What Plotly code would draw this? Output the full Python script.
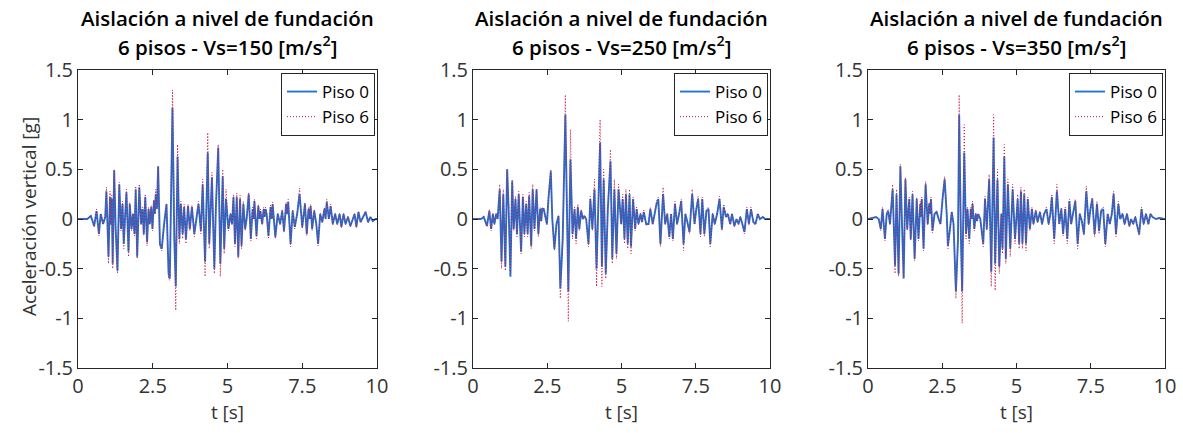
import plotly.graph_objects as go

# ---------------- data ----------------
T1 = [0.00, 0.31, 0.43, 0.54, 0.62, 0.70, 0.76, 0.84, 0.91, 0.95,
      1.02, 1.07, 1.10, 1.13, 1.16, 1.21, 1.26, 1.32, 1.38, 1.44,
      1.49, 1.53, 1.58, 1.62, 1.69, 1.73, 1.79, 1.84, 1.89, 1.93,
      1.98, 2.05, 2.11, 2.16, 2.20, 2.25, 2.31, 2.36, 2.40, 2.45,
      2.49, 2.54, 2.57, 2.60, 2.64, 2.68, 2.74, 2.80, 2.88, 2.96,
      3.03, 3.07, 3.16, 3.22, 3.27, 3.33, 3.39, 3.44, 3.50, 3.55,
      3.61, 3.68, 3.74, 3.81, 3.89, 3.97, 4.03, 4.11, 4.17, 4.25,
      4.34, 4.39, 4.48, 4.56, 4.61, 4.69, 4.76, 4.84, 4.89, 4.95,
      5.03, 5.10, 5.15, 5.20, 5.25, 5.31, 5.36, 5.42, 5.47, 5.53,
      5.59, 5.64, 5.71, 5.78, 5.84, 5.87, 5.90, 5.97, 6.03, 6.07,
      6.10, 6.16, 6.21, 6.24, 6.27, 6.31, 6.37, 6.44, 6.48, 6.51,
      6.60, 6.68, 6.76, 6.83, 6.89, 6.96, 7.00, 7.03, 7.11, 7.18,
      7.25, 7.33, 7.41, 7.50, 7.59, 7.65, 7.71, 7.75, 7.78, 7.83,
      7.90, 7.97, 8.03, 8.10, 8.17, 8.24, 8.28, 8.32, 8.39, 8.45,
      8.52, 8.60, 8.67, 8.75, 8.81, 8.88, 8.95, 9.03, 9.11, 9.17,
      9.25, 9.31, 9.38, 9.45, 9.53, 9.62, 9.70, 9.78, 9.86, 9.95,
      10.00]
P0_1 = [0, 0, 0.03, -0.07, 0.08, -0.15, 0.05, -0.05, 0.02, 0.28,
        -0.38, 0.22, -0.05, 0.20, -0.45, 0.49, -0.10, -0.52, 0.35, -0.10,
        0.15, -0.25, 0.05, 0.27, -0.33, 0.15, -0.10, 0.05, -0.15, 0.30,
        -0.38, 0.32, -0.05, 0.10, -0.15, 0.22, -0.23, 0.10, -0.05, 0.12,
        -0.10, 0.18, 0.05, 0.25, 0.10, 0.53, -0.25, -0.30, -0.05, 0.15,
        -0.55, -0.60, 1.12, -0.20, -0.68, 0.63, -0.20, 0.15, -0.15, 0.12,
        -0.20, 0.13, -0.10, 0.12, -0.15, 0.05, 0.15, -0.12, 0.35, -0.43,
        0.67, -0.25, 0.42, -0.50, 0.10, 0.72, -0.45, 0.43, -0.30, 0.20,
        -0.10, 0.05, -0.05, 0.22, -0.25, 0.22, -0.38, 0.20, -0.27, 0.15,
        -0.10, 0.00, 0.25, -0.20, 0.10, 0.00, 0.18, -0.17, 0.13, 0.00,
        0.08, -0.05, 0.10, 0.02, 0.10, 0.05, -0.17, 0.12, 0.00, 0.15,
        -0.18, 0.05, -0.05, 0.08, -0.12, 0.15, 0.05, 0.17, -0.25, 0.08,
        -0.08, 0.05, 0.25, -0.08, 0.15, -0.15, 0.10, 0.00, 0.13, -0.10,
        0.08, -0.05, -0.25, 0.05, -0.03, 0.10, 0.00, 0.17, 0.00, 0.13,
        -0.05, 0.05, -0.05, 0.05, -0.08, 0.05, -0.05, 0.02, -0.07, -0.02,
        0.05, -0.08, 0.07, -0.03, 0.02, 0.07, -0.03, 0.02, -0.02, 0.00,
        0.00]
P6_1 = [0, 0, 0.04, -0.08, 0.10, -0.17, 0.06, -0.06, 0.03, 0.32,
        -0.45, 0.28, -0.06, 0.24, -0.50, 0.50, -0.12, -0.55, 0.37, -0.12,
        0.18, -0.30, 0.06, 0.30, -0.38, 0.17, -0.12, 0.06, -0.17, 0.33,
        -0.40, 0.35, -0.06, 0.12, -0.17, 0.25, -0.27, 0.12, -0.06, 0.14,
        -0.12, 0.20, 0.06, 0.30, 0.12, 0.53, -0.28, -0.32, -0.06, 0.15,
        -0.60, -0.62, 1.30, -0.25, -0.92, 0.75, -0.25, 0.18, -0.20, 0.15,
        -0.25, 0.15, -0.12, 0.14, -0.18, 0.06, 0.18, -0.15, 0.40, -0.58,
        0.87, -0.30, 0.47, -0.55, 0.12, 0.75, -0.58, 0.50, -0.35, 0.30,
        -0.12, 0.06, -0.06, 0.25, -0.28, 0.26, -0.40, 0.24, -0.30, 0.18,
        -0.12, 0.00, 0.27, -0.22, 0.12, 0.00, 0.20, -0.20, 0.15, 0.00,
        0.10, -0.06, 0.12, 0.02, 0.12, 0.06, -0.20, 0.14, 0.00, 0.17,
        -0.20, 0.06, -0.06, 0.10, -0.14, 0.17, 0.06, 0.20, -0.28, 0.10,
        -0.10, 0.06, 0.31, -0.10, 0.17, -0.17, 0.12, 0.00, 0.15, -0.12,
        0.10, -0.06, -0.27, 0.06, -0.04, 0.12, 0.00, 0.20, 0.00, 0.15,
        -0.06, 0.06, -0.06, 0.06, -0.09, 0.06, -0.06, 0.03, -0.08, -0.02,
        0.06, -0.09, 0.08, -0.04, 0.02, 0.08, -0.04, 0.02, -0.02, 0.00,
        0.00]

T2 = [0.00, 0.27, 0.36, 0.47, 0.55, 0.61, 0.67, 0.72, 0.78, 0.83,
      0.90, 0.96, 1.02, 1.09, 1.15, 1.20, 1.26, 1.32, 1.37, 1.43,
      1.48, 1.54, 1.62, 1.68, 1.73, 1.79, 1.84, 1.89, 1.96, 2.01,
      2.07, 2.14, 2.20, 2.26, 2.30, 2.33, 2.38, 2.44, 2.49, 2.54,
      2.62, 2.67, 2.74, 2.81, 2.88, 2.94, 3.02, 3.11, 3.17, 3.21,
      3.28, 3.35, 3.42, 3.47, 3.53, 3.58, 3.64, 3.70, 3.75, 3.81,
      3.89, 3.95, 4.02, 4.09, 4.16, 4.22, 4.28, 4.34, 4.40, 4.47,
      4.54, 4.63, 4.69, 4.76, 4.83, 4.90, 4.99, 5.04, 5.10, 5.15,
      5.21, 5.27, 5.32, 5.39, 5.46, 5.51, 5.57, 5.64, 5.69, 5.75,
      5.83, 5.91, 5.97, 6.05, 6.11, 6.18, 6.24, 6.31, 6.40, 6.47,
      6.54, 6.61, 6.67, 6.73, 6.80, 6.87, 6.94, 7.01, 7.09, 7.15,
      7.21, 7.29, 7.38, 7.46, 7.52, 7.58, 7.66, 7.72, 7.79, 7.86,
      7.93, 7.99, 8.07, 8.14, 8.22, 8.30, 8.38, 8.44, 8.52, 8.58,
      8.66, 8.72, 8.80, 8.87, 8.94, 9.00, 9.07, 9.14, 9.22, 9.29,
      9.36, 9.44, 9.51, 9.59, 9.66, 9.76, 9.83, 9.92, 10.00]
P0_2 = [0, 0, 0.02, -0.07, 0.08, -0.10, 0.05, -0.05, 0.05, 0.00,
        0.30, -0.43, 0.25, -0.48, 0.50, 0.10, -0.58, 0.38, -0.10, 0.20,
        -0.15, 0.25, -0.33, 0.22, -0.15, 0.15, -0.15, 0.23, -0.27, 0.30,
        -0.10, 0.30, -0.15, 0.10, -0.02, 0.10, 0.10, 0.02, -0.05, 0.20,
        0.48, 0.00, -0.30, -0.05, 0.03, -0.70, -0.20, 1.05, -0.20, -0.73,
        0.60, -0.15, 0.10, -0.20, 0.12, -0.10, 0.08, 0.00, 0.03, 0.00,
        -0.25, 0.20, -0.10, 0.30, -0.50, 0.20, 0.77, -0.48, 0.40, -0.55,
        0.10, 0.58, -0.40, 0.30, -0.35, 0.30, -0.05, 0.20, -0.20, 0.25,
        -0.25, 0.25, -0.28, 0.20, -0.10, 0.10, -0.05, 0.05, -0.03, 0.07,
        -0.05, -0.05, 0.10, -0.05, 0.05, 0.15, 0.20, -0.25, 0.25, -0.05,
        0.05, -0.18, 0.05, -0.20, 0.15, -0.05, 0.05, 0.18, -0.25, 0.05,
        -0.02, -0.13, 0.25, -0.05, 0.10, 0.20, -0.15, 0.20, -0.15, 0.08,
        0.10, -0.25, 0.05, -0.05, 0.05, 0.20, -0.10, 0.12, 0.02, 0.05,
        -0.05, 0.05, -0.07, 0.00, -0.05, 0.02, -0.05, -0.13, 0.10, -0.05,
        0.10, -0.03, -0.05, 0.05, 0.00, 0.02, 0.00, 0.00, 0.00]
P6_2 = [0, 0, 0.03, -0.08, 0.10, -0.12, 0.06, -0.06, 0.06, 0.00,
        0.35, -0.50, 0.30, -0.52, 0.50, 0.12, -0.55, 0.40, -0.12, 0.23,
        -0.18, 0.28, -0.35, 0.25, -0.18, 0.18, -0.18, 0.27, -0.30, 0.35,
        -0.12, 0.30, -0.18, 0.12, -0.03, 0.12, 0.10, 0.02, -0.06, 0.22,
        0.50, 0.00, -0.32, -0.06, 0.04, -0.80, -0.25, 1.25, -0.25, -1.03,
        0.90, -0.20, 0.12, -0.25, 0.15, -0.12, 0.10, 0.00, 0.04, 0.00,
        -0.28, 0.23, -0.12, 0.40, -0.68, 0.25, 1.00, -0.68, 0.50, -0.60,
        0.12, 0.70, -0.45, 0.40, -0.40, 0.35, -0.06, 0.25, -0.25, 0.30,
        -0.30, 0.30, -0.35, 0.22, -0.12, 0.12, -0.06, 0.06, -0.04, 0.09,
        -0.06, -0.06, 0.12, -0.06, 0.06, 0.18, 0.22, -0.28, 0.32, -0.06,
        0.06, -0.20, 0.06, -0.22, 0.18, -0.06, 0.06, 0.20, -0.32, 0.06,
        -0.03, -0.15, 0.30, -0.06, 0.12, 0.23, -0.18, 0.22, -0.18, 0.10,
        0.12, -0.28, 0.06, -0.06, 0.06, 0.23, -0.12, 0.15, 0.02, 0.06,
        -0.06, 0.06, -0.08, 0.00, -0.06, 0.03, -0.06, -0.15, 0.12, -0.06,
        0.12, -0.04, -0.06, 0.06, 0.00, 0.02, 0.00, 0.00, 0.00]

T3 = [0.00, 0.27, 0.36, 0.43, 0.49, 0.57, 0.63, 0.68, 0.74, 0.83,
      0.91, 0.96, 1.03, 1.09, 1.14, 1.20, 1.26, 1.32, 1.39, 1.44,
      1.50, 1.57, 1.64, 1.70, 1.76, 1.79, 1.81, 1.87, 1.94, 2.01,
      2.06, 2.09, 2.12, 2.17, 2.24, 2.31, 2.38, 2.44, 2.51, 2.58,
      2.65, 2.69, 2.76, 2.82, 2.88, 2.96, 3.03, 3.07, 3.13, 3.17,
      3.24, 3.30, 3.35, 3.41, 3.46, 3.49, 3.52, 3.58, 3.63, 3.67,
      3.71, 3.78, 3.88, 3.94, 4.00, 4.08, 4.15, 4.23, 4.28, 4.36,
      4.42, 4.49, 4.53, 4.59, 4.64, 4.71, 4.79, 4.87, 4.95, 5.04,
      5.09, 5.15, 5.20, 5.26, 5.32, 5.38, 5.45, 5.52, 5.57, 5.65,
      5.71, 5.79, 5.86, 5.93, 6.01, 6.08, 6.14, 6.19, 6.27, 6.36,
      6.44, 6.51, 6.57, 6.64, 6.71, 6.78, 6.84, 6.91, 6.98, 7.06,
      7.13, 7.20, 7.27, 7.35, 7.43, 7.49, 7.55, 7.63, 7.71, 7.78,
      7.85, 7.92, 7.99, 8.07, 8.14, 8.21, 8.27, 8.35, 8.43, 8.49,
      8.57, 8.64, 8.72, 8.80, 8.86, 8.93, 9.00, 9.05, 9.13, 9.21,
      9.28, 9.36, 9.44, 9.51, 9.58, 9.70, 9.81, 9.98, 10.00]
P0_3 = [0, 0.02, 0.00, -0.10, 0.10, -0.20, 0.05, 0.08, -0.05, 0.30,
        -0.47, 0.25, -0.55, 0.53, 0.00, -0.60, 0.40, -0.10, 0.20, -0.20,
        0.25, -0.40, 0.20, -0.20, 0.15, 0.02, 0.20, -0.30, 0.35, -0.05,
        0.15, 0.05, 0.20, -0.12, 0.05, 0.07, 0.00, -0.05, 0.20, 0.40,
        0.05, -0.27, -0.10, 0.07, -0.05, -0.73, -0.20, 1.05, -0.20, -0.73,
        0.67, -0.15, 0.10, -0.20, 0.10, 0.00, 0.15, -0.10, 0.05, -0.02,
        0.05, 0.00, -0.25, 0.20, -0.10, 0.40, -0.53, 0.82, -0.45, 0.40,
        -0.48, 0.05, -0.30, 0.63, -0.40, 0.35, -0.30, 0.30, -0.20, 0.20,
        -0.25, 0.28, -0.25, 0.25, -0.25, 0.20, -0.10, 0.10, -0.05, 0.08,
        -0.03, 0.07, -0.05, 0.05, 0.10, -0.05, 0.05, 0.22, -0.20, 0.28,
        -0.05, 0.10, -0.15, 0.10, -0.20, 0.18, -0.05, 0.05, 0.18, -0.25,
        0.05, -0.02, -0.15, 0.28, -0.05, 0.10, 0.20, -0.15, 0.15, -0.12,
        0.08, 0.10, -0.25, 0.05, -0.05, 0.05, 0.25, -0.15, 0.15, 0.00,
        0.05, -0.05, 0.05, -0.07, 0.00, -0.05, 0.02, -0.05, -0.15, 0.10,
        -0.05, 0.05, -0.05, 0.05, 0.02, 0.00, 0.01, 0.00, 0.00]
P6_3 = [0, 0.02, 0.00, -0.12, 0.12, -0.22, 0.06, 0.10, -0.06, 0.35,
        -0.55, 0.30, -0.58, 0.55, 0.00, -0.58, 0.42, -0.12, 0.22, -0.22,
        0.28, -0.42, 0.22, -0.22, 0.18, 0.02, 0.22, -0.32, 0.38, -0.06,
        0.17, 0.05, 0.22, -0.14, 0.06, 0.08, 0.00, -0.06, 0.22, 0.43,
        0.06, -0.30, -0.12, 0.08, -0.06, -0.80, -0.25, 1.25, -0.25, -1.05,
        0.95, -0.20, 0.12, -0.25, 0.12, 0.00, 0.18, -0.12, 0.06, -0.02,
        0.06, 0.00, -0.28, 0.23, -0.12, 0.45, -0.68, 1.05, -0.72, 0.50,
        -0.55, 0.06, -0.35, 0.75, -0.45, 0.40, -0.38, 0.35, -0.25, 0.25,
        -0.30, 0.32, -0.30, 0.30, -0.32, 0.22, -0.12, 0.12, -0.06, 0.10,
        -0.04, 0.08, -0.06, 0.06, 0.12, -0.06, 0.06, 0.25, -0.25, 0.35,
        -0.06, 0.12, -0.17, 0.12, -0.25, 0.20, -0.06, 0.06, 0.20, -0.30,
        0.06, -0.03, -0.17, 0.33, -0.06, 0.12, 0.22, -0.18, 0.18, -0.15,
        0.10, 0.12, -0.28, 0.06, -0.06, 0.06, 0.28, -0.18, 0.18, 0.00,
        0.06, -0.06, 0.06, -0.08, 0.00, -0.06, 0.03, -0.06, -0.17, 0.12,
        -0.06, 0.06, -0.06, 0.06, 0.02, 0.00, 0.01, 0.00, 0.00]

VS = [150, 250, 350]
SERIES_NAMES = ["Piso 0", "Piso 6"]
X_TICKS = [0, 2.5, 5, 7.5, 10]
X_TICK_LABELS = ["0", "2.5", "5", "7.5", "10"]
Y_TICKS = [-1.5, -1, -0.5, 0, 0.5, 1, 1.5]
Y_TICK_LABELS = ["-1.5", "-1", "-0.5", "0", "0.5", "1", "1.5"]
Y_LABEL = "Aceleración vertical [g]"
X_LABEL = "t [s]"

# ---------------- styling / layout ----------------
W, H = 1183, 433
FONT = "Open Sans"
AX = "#262626"
TXT = "#333333"
BLUE = "#1f74d6"
RED = "#c8163c"

panels_px = [(78, 377), (473, 770), (868, 1165)]
top_px, bot_px = 70, 368
ydom = [1 - bot_px / H, 1 - top_px / H]

data = [(T1, P0_1, P6_1), (T2, P0_2, P6_2), (T3, P0_3, P6_3)]

fig = go.Figure()
annotations = []
for i, ((x0, x1), (t, p0, p6), vs) in enumerate(zip(panels_px, data, VS)):
    k = "" if i == 0 else str(i + 1)
    leg = "legend" + k
    fig.add_trace(go.Scatter(x=t, y=p0, mode="lines", name=SERIES_NAMES[0],
                             line=dict(color=BLUE, width=1.9),
                             xaxis="x" + k, yaxis="y" + k, legend=leg))
    fig.add_trace(go.Scatter(x=t, y=p6, mode="lines", name=SERIES_NAMES[1],
                             line=dict(color=RED, width=1.0, dash="1px,2px"),
                             xaxis="x" + k, yaxis="y" + k, legend=leg))
    xd = [x0 / W, x1 / W]
    common = dict(showline=True, linecolor=AX, linewidth=1, mirror="ticks",
                  ticks="inside", ticklen=5, tickcolor=AX, showgrid=False,
                  zeroline=False, automargin=False,
                  tickfont=dict(family=FONT, size=20, color=TXT))
    fig.update_layout(**{
        "xaxis" + k: dict(domain=xd, range=[0, 10], tickvals=X_TICKS,
                          ticktext=X_TICK_LABELS, anchor="y" + k,
                          title=dict(text=X_LABEL, font=dict(family=FONT, size=19, color=TXT),
                                     standoff=0), **common),
        "yaxis" + k: dict(domain=ydom, range=[-1.5, 1.5], tickvals=Y_TICKS,
                          ticktext=Y_TICK_LABELS, anchor="x" + k, **common),
        leg: dict(x=(x1 - 2) / W, y=1 - (top_px + 3) / H, xanchor="right", yanchor="top",
                  bgcolor="white", bordercolor=AX, borderwidth=1,
                  font=dict(family=FONT, size=17, color="#000000"),
                  itemwidth=30, tracegroupgap=0),
    })
    cx = (x0 + x1) / 2 / W
    tfont = dict(family=FONT, size=20.5, color="#000000", weight=600)
    annotations.append(dict(text="Aislación a nivel de fundación", x=cx, y=1 - 18 / H,
                            xref="paper", yref="paper", showarrow=False, xanchor="center",
                            yanchor="middle", font=tfont))
    annotations.append(dict(text=f"6 pisos - Vs={vs} [m/s<sup>2</sup>]", x=cx,
                            y=1 - 46 / H, xref="paper", yref="paper", showarrow=False,
                            xanchor="center", yanchor="middle", font=tfont))

annotations.append(dict(text=Y_LABEL, x=29 / W, y=1 - 217 / H, xref="paper", yref="paper",
                        showarrow=False, textangle=-90, xanchor="center", yanchor="middle",
                        font=dict(family=FONT, size=19, color=TXT)))

fig.update_layout(width=W, height=H, margin=dict(l=0, r=0, t=0, b=0),
                  paper_bgcolor="white", plot_bgcolor="white",
                  annotations=annotations, showlegend=True)

fig.write_html("out.html")
